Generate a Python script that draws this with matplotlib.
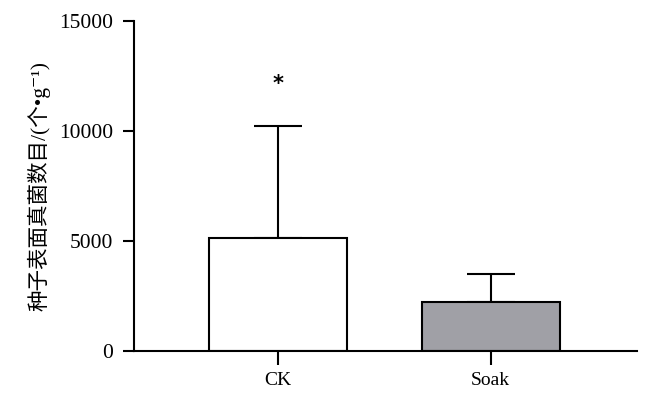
import matplotlib
matplotlib.use("Agg")
import matplotlib.pyplot as plt

# data
groups = ["CK", "Soak"]
means = [5150, 2250]
errs = [5100, 1250]
bar_colors = ["white", "#a0a0a6"]
sig_marks = ["*", ""]
y_ticks = [0, 5000, 10000, 15000]

plt.rcParams["font.family"] = ["Liberation Serif", "Noto Sans CJK SC", "DejaVu Serif"]

fig = plt.figure(figsize=(6.71, 3.99), dpi=100)
ax = fig.add_axes([0.1997, 0.1203, 0.749, 0.827])

x = list(range(len(groups)))
ax.bar(x, means, width=0.65, color=bar_colors, edgecolor="black", linewidth=1.5, zorder=2)
ax.errorbar(x, means, yerr=[[0] * len(errs), errs], fmt="none", ecolor="black",
            elinewidth=1.5, capsize=17, capthick=1.5, zorder=1)

for xi, m, e, s in zip(x, means, errs, sig_marks):
    if s:
        ax.text(xi, m + e + 1900, s, ha="center", va="center", fontsize=15,
                family="DejaVu Sans", fontweight="bold")

ax.set_xlim(-0.676, 1.685)
ax.set_ylim(0, 15000)
ax.set_yticks(y_ticks)
ax.set_xticks(x)
ax.set_xticklabels(groups)

for side in ["top", "right"]:
    ax.spines[side].set_visible(False)
for side in ["left", "bottom"]:
    ax.spines[side].set_linewidth(1.5)

ax.tick_params(axis="y", direction="out", length=8, width=1.5, labelsize=15.5, pad=7)
ax.tick_params(axis="x", direction="out", length=10, width=1.5, labelsize=14, pad=5)

ax.set_ylabel("种子表面真菌数目/(个•g⁻¹)", fontsize=15.5, labelpad=6,
              family=["Liberation Serif", "Noto Sans CJK SC", "DejaVu Serif"])

fig.savefig("out.png", dpi=100)
